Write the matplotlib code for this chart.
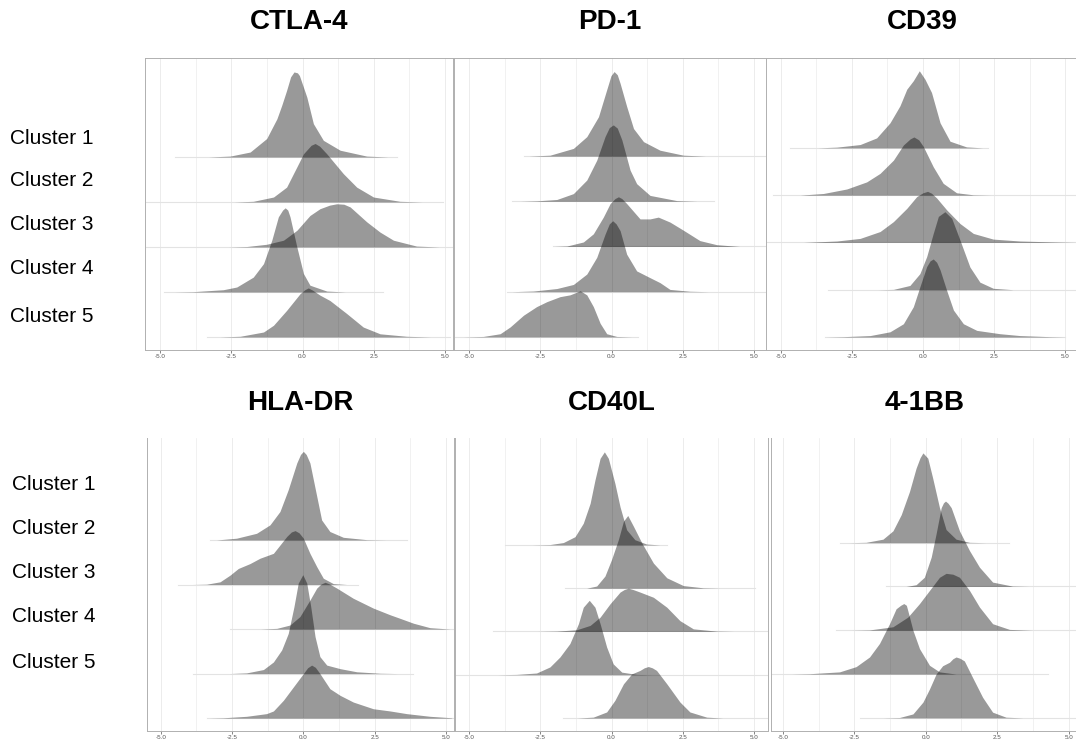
import numpy as np
from matplotlib import pyplot as plt

plt.rcParams['font.family'] = ['Liberation Sans', 'DejaVu Sans']

MARKERS = ['CTLA-4', 'PD-1', 'CD39', 'HLA-DR', 'CD40L', '4-1BB']
CLUSTERS = ['Cluster 1', 'Cluster 2', 'Cluster 3', 'Cluster 4', 'Cluster 5']
TICKS = [-5.0, -2.5, 0.0, 2.5, 5.0]
TICK_LABELS = ['-5.0', '-2.5', '0.0', '2.5', '5.0']

# density outlines: x knots and ridge heights
# (height in units of the gap between two ridge baselines)
CTLA4_X = [
    [-3.3, -2.54, -1.84, -1.26, -0.9, -0.73, -0.56, -0.42, -0.30, -0.18, -0.11, 0.15, 0.38, 0.73, 1.32, 2.25, 3.0],
    [-2.4, -1.73, -1.02, -0.56, -0.2, 0.03, 0.3, 0.44, 0.6, 0.85, 1.43, 1.9, 2.49, 3.42, 4.2],
    [-2.6, -1.96, -1.26, -0.67, -0.2, 0.26, 0.61, 0.95, 1.2, 1.45, 1.67, 2.25, 2.72, 3.19, 4.0, 4.8],
    [-4.5, -3.83, -2.78, -2.31, -1.73, -1.37, -1.08, -0.85, -0.7, -0.61, -0.52, -0.44, -0.2, 0.03, 0.26, 0.85, 1.5],
    [-2.9, -2.19, -1.37, -1.02, -0.56, -0.09, 0.08, 0.2, 0.35, 0.61, 0.96, 1.55, 2.13, 2.72, 3.65, 4.5],
]
CTLA4_H = [
    [0, 0.02, 0.11, 0.41, 0.85, 1.15, 1.48, 1.78, 1.89, 1.87, 1.81, 1.33, 0.74, 0.37, 0.15, 0.02, 0],
    [0, 0.015, 0.11, 0.33, 0.78, 1.07, 1.26, 1.30, 1.24, 1.07, 0.63, 0.33, 0.11, 0.015, 0],
    [0, 0.01, 0.06, 0.15, 0.37, 0.70, 0.85, 0.93, 0.96, 0.95, 0.89, 0.56, 0.33, 0.15, 0.02, 0],
    [0, 0.007, 0.05, 0.11, 0.33, 0.63, 1.15, 1.67, 1.82, 1.87, 1.82, 1.67, 1.0, 0.41, 0.15, 0.02, 0],
    [0, 0.015, 0.11, 0.26, 0.59, 0.96, 1.05, 1.09, 1.04, 0.93, 0.81, 0.52, 0.22, 0.07, 0.015, 0],
]
CTLA4_RANGE = [(-4.47, 3.3), (-5.5, 4.94), (-5.5, 5.3), (-4.88, 2.84), (-3.36, 5.18)]

PD1_X = [
    [-2.9, -2.16, -1.34, -0.87, -0.46, -0.17, -0.02, 0.09, 0.2, 0.3, 0.53, 0.77, 1.12, 1.7, 2.52, 3.3],
    [-3.2, -2.63, -1.92, -1.34, -0.87, -0.52, -0.23, -0.08, 0.06, 0.2, 0.36, 0.65, 0.88, 1.35, 2.29, 3.0],
    [-2.0, -1.57, -0.99, -0.64, -0.29, -0.05, 0.12, 0.24, 0.36, 0.53, 1.0, 1.35, 1.64, 2.05, 2.52, 3.1, 3.69, 4.5],
    [-3.5, -2.74, -1.92, -1.34, -0.87, -0.52, -0.23, -0.08, 0.04, 0.16, 0.3, 0.53, 0.88, 1.35, 1.7, 2.05, 2.75, 3.4],
    [-5.2, -4.5, -3.91, -3.56, -3.09, -2.63, -2.27, -1.81, -1.46, -1.1, -0.87, -0.64, -0.4, -0.17, 0.18, 0.7],
]
PD1_H = [
    [0, 0.02, 0.17, 0.43, 0.87, 1.47, 1.78, 1.87, 1.8, 1.61, 1.1, 0.61, 0.32, 0.13, 0.02, 0],
    [0, 0.01, 0.04, 0.17, 0.47, 0.91, 1.43, 1.63, 1.69, 1.62, 1.36, 0.69, 0.39, 0.13, 0.015, 0],
    [0, 0.01, 0.10, 0.28, 0.65, 0.95, 1.06, 1.10, 1.06, 0.95, 0.61, 0.61, 0.65, 0.54, 0.36, 0.13, 0.04, 0],
    [0, 0.015, 0.07, 0.16, 0.39, 0.76, 1.27, 1.50, 1.57, 1.50, 1.35, 0.83, 0.46, 0.31, 0.2, 0.05, 0.01, 0],
    [0, 0.01, 0.07, 0.22, 0.48, 0.67, 0.78, 0.89, 0.93, 1.02, 0.93, 0.67, 0.30, 0.07, 0.01, 0],
]
PD1_RANGE = [(-3.09, 5.45), (-3.5, 3.6), (-2.04, 5.45), (-3.68, 5.45), (-5.49, 0.94)]

CD39_X = [
    [-3.7, -3.03, -2.21, -1.63, -1.16, -0.81, -0.57, -0.34, -0.13, 0.07, 0.3, 0.6, 0.95, 1.53, 2.1],
    [-4.32, -3.5, -2.68, -1.98, -1.51, -1.04, -0.69, -0.45, -0.32, -0.15, 0.01, 0.36, 0.71, 1.18, 1.77, 2.4],
    [-4.2, -3.03, -2.21, -1.51, -1.04, -0.57, -0.22, 0.0, 0.16, 0.3, 0.48, 0.83, 1.3, 1.77, 2.47, 3.41, 4.81, 5.4],
    [-1.6, -1.04, -0.46, -0.11, 0.13, 0.36, 0.54, 0.77, 1.01, 1.3, 1.65, 2.0, 2.47, 3.17],
    [-3.4, -2.8, -1.86, -1.16, -0.69, -0.34, -0.11, 0.13, 0.25, 0.36, 0.48, 0.6, 0.83, 1.07, 1.42, 1.89, 2.7, 3.41, 4.46, 5.0],
]
CD39_H = [
    [0, 0.015, 0.07, 0.21, 0.53, 0.89, 1.24, 1.42, 1.63, 1.45, 1.17, 0.53, 0.14, 0.02, 0],
    [0, 0.035, 0.13, 0.28, 0.46, 0.74, 1.06, 1.19, 1.23, 1.17, 1.03, 0.6, 0.25, 0.05, 0.007, 0],
    [0, 0.03, 0.085, 0.23, 0.44, 0.72, 0.97, 1.05, 1.08, 1.04, 0.94, 0.69, 0.40, 0.19, 0.07, 0.03, 0.007, 0],
    [0, 0.007, 0.09, 0.34, 0.70, 1.19, 1.55, 1.65, 1.51, 1.05, 0.48, 0.16, 0.03, 0],
    [0, 0.007, 0.03, 0.11, 0.28, 0.64, 1.06, 1.49, 1.61, 1.65, 1.58, 1.42, 0.99, 0.57, 0.28, 0.14, 0.07, 0.03, 0.007, 0],
]
CD39_RANGE = [(-4.67, 2.3), (-5.26, 5.45), (-5.5, 5.45), (-3.33, 5.45), (-3.44, 4.99)]

HLADR_X = [
    [-3.04, -2.34, -1.64, -1.17, -0.82, -0.53, -0.23, -0.1, 0.0, 0.1, 0.23, 0.47, 0.64, 0.93, 1.4, 2.22, 2.9],
    [-3.9, -3.39, -2.92, -2.57, -2.28, -1.87, -1.52, -1.05, -0.58, -0.42, -0.29, -0.15, 0.0, 0.23, 0.47, 0.7, 1.05, 1.52],
    [-1.5, -0.93, -0.47, -0.12, 0.23, 0.47, 0.62, 0.76, 0.92, 1.17, 1.75, 2.45, 3.04, 3.39, 3.86, 4.44, 5.14],
    [-2.6, -1.99, -1.4, -1.05, -0.76, -0.53, -0.33, -0.18, -0.02, 0.12, 0.26, 0.41, 0.58, 0.82, 1.29, 1.87, 2.69, 3.3],
    [-3.3, -2.8, -1.99, -1.29, -1.05, -0.7, -0.35, 0.0, 0.15, 0.29, 0.42, 0.58, 0.93, 1.29, 1.75, 2.45, 3.04, 3.62, 4.44, 5.2],
]
HLADR_H = [
    [0, 0.04, 0.15, 0.34, 0.64, 1.13, 1.73, 1.92, 1.99, 1.92, 1.73, 0.98, 0.45, 0.19, 0.06, 0.007, 0],
    [0, 0.007, 0.06, 0.21, 0.36, 0.47, 0.59, 0.70, 1.08, 1.18, 1.21, 1.16, 1.04, 0.70, 0.40, 0.14, 0.02, 0],
    [0, 0.015, 0.09, 0.28, 0.65, 0.92, 1.01, 1.05, 1.01, 0.92, 0.69, 0.47, 0.32, 0.24, 0.13, 0.03, 0],
    [0, 0.015, 0.09, 0.26, 0.53, 0.9, 1.5, 2.03, 2.22, 2.03, 1.5, 0.83, 0.38, 0.19, 0.11, 0.04, 0.007, 0],
    [0, 0.007, 0.04, 0.10, 0.16, 0.40, 0.70, 1.0, 1.13, 1.19, 1.14, 1.0, 0.66, 0.51, 0.36, 0.21, 0.16, 0.10, 0.04, 0.007],
]
HLADR_RANGE = [(-3.27, 3.62), (-4.38, 1.93), (-2.57, 5.26), (-3.86, 3.86), (-3.39, 5.26)]

CD40L_X = [
    [-2.8, -2.16, -1.69, -1.28, -0.99, -0.75, -0.58, -0.4, -0.25, -0.11, 0.12, 0.3, 0.53, 0.82, 1.23, 1.7],
    [-0.87, -0.52, -0.23, 0.0, 0.24, 0.42, 0.57, 0.77, 1.06, 1.47, 1.94, 2.52, 3.22, 3.8],
    [-2.6, -1.92, -1.22, -0.75, -0.4, -0.05, 0.3, 0.45, 0.59, 0.75, 1.0, 1.47, 1.94, 2.4, 2.87, 3.69, 4.3],
    [-4.0, -3.33, -2.63, -2.16, -1.81, -1.46, -1.16, -0.99, -0.78, -0.58, -0.4, -0.17, 0.06, 0.36, 0.88, 1.4],
    [-1.2, -0.64, -0.17, 0.12, 0.42, 0.71, 1.0, 1.15, 1.29, 1.43, 1.58, 1.94, 2.4, 2.75, 3.34, 3.9],
]
CD40L_H = [
    [0, 0.008, 0.054, 0.19, 0.5, 0.96, 1.5, 2.0, 2.15, 2.0, 1.42, 0.88, 0.35, 0.12, 0.02, 0],
    [0, 0.05, 0.28, 0.66, 1.12, 1.55, 1.68, 1.43, 1.05, 0.58, 0.24, 0.06, 0.008, 0],
    [0, 0.008, 0.04, 0.14, 0.33, 0.64, 0.91, 0.97, 1.0, 0.97, 0.91, 0.79, 0.56, 0.25, 0.06, 0.008, 0],
    [0, 0.008, 0.04, 0.18, 0.41, 0.72, 1.18, 1.56, 1.72, 1.56, 1.18, 0.64, 0.25, 0.06, 0.008, 0],
    [0, 0.02, 0.14, 0.41, 0.79, 1.02, 1.1, 1.16, 1.19, 1.16, 1.1, 0.79, 0.37, 0.14, 0.02, 0],
]
CD40L_RANGE = [(-3.74, 1.94), (-1.63, 5.04), (-4.15, 5.5), (-5.49, 5.5), (-1.69, 5.5)]

BB41_X = [
    [-2.7, -2.09, -1.5, -1.15, -0.86, -0.57, -0.34, -0.2, -0.1, 0.07, 0.24, 0.48, 0.71, 1.06, 1.53, 2.1],
    [-0.69, -0.34, -0.05, 0.19, 0.36, 0.54, 0.62, 0.69, 0.78, 0.89, 1.18, 1.53, 1.88, 2.34, 3.04, 3.6],
    [-2.6, -1.97, -1.15, -0.63, -0.22, 0.13, 0.48, 0.71, 0.95, 1.18, 1.53, 1.88, 2.34, 2.93, 3.74],
    [-4.7, -4.07, -3.02, -2.44, -1.97, -1.62, -1.27, -1.04, -0.88, -0.77, -0.68, -0.63, -0.45, -0.22, 0.13, 0.48, 1.06],
    [-1.5, -0.92, -0.45, -0.1, 0.13, 0.36, 0.59, 0.83, 0.95, 1.06, 1.2, 1.35, 1.64, 1.99, 2.34, 2.81, 3.4],
]
BB41_H = [
    [0, 0.008, 0.08, 0.27, 0.64, 1.17, 1.70, 1.94, 2.05, 1.93, 1.48, 0.80, 0.30, 0.08, 0.008, 0],
    [0, 0.04, 0.21, 0.67, 1.2, 1.8, 1.91, 1.95, 1.9, 1.8, 1.27, 0.82, 0.44, 0.1, 0.008, 0],
    [0, 0.008, 0.08, 0.30, 0.61, 0.91, 1.21, 1.30, 1.28, 1.21, 0.91, 0.53, 0.15, 0.02, 0],
    [0, 0.008, 0.05, 0.17, 0.39, 0.70, 1.15, 1.49, 1.57, 1.61, 1.57, 1.45, 1.0, 0.58, 0.2, 0.05, 0],
    [0, 0.008, 0.09, 0.36, 0.66, 1.0, 1.19, 1.27, 1.35, 1.39, 1.36, 1.3, 0.92, 0.47, 0.13, 0.015, 0],
]
BB41_RANGE = [(-3.02, 2.93), (-1.39, 5.4), (-3.14, 5.4), (-5.41, 4.27), (-2.32, 5.4)]

PANEL_X = [CTLA4_X, PD1_X, CD39_X, HLADR_X, CD40L_X, BB41_X]
PANEL_H = [CTLA4_H, PD1_H, CD39_H, HLADR_H, CD40L_H, BB41_H]
PANEL_RANGE = [CTLA4_RANGE, PD1_RANGE, CD39_RANGE, HLADR_RANGE, CD40L_RANGE, BB41_RANGE]

W, H = 1076, 742
# panel boxes in pixels: left, right, top, bottom
BOXES = [
    (145, 453, 58, 350), (454, 766, 58, 350), (766, 1078, 58, 350),
    (147, 454, 438, 731), (455, 768, 438, 731), (771, 1078, 438, 731),
]
XLIMS = [(-5.53, 5.28), (-5.53, 5.42), (-5.52, 5.45),
         (-5.48, 5.28), (-5.49, 5.49), (-5.42, 5.33)]
YLIMS = [(-0.29, 6.2), (-0.29, 6.17), (-0.275, 5.9),
         (-0.29, 6.29), (-0.30, 6.47), (-0.30, 6.39)]
LABEL_Y = [[138, 181, 225, 268, 316], [485, 529, 573, 617, 663]]
LABEL_X = [10, 12]
TITLE_Y = [22, 403]

fig = plt.figure(figsize=(W / 100, H / 100), dpi=100)

for k, name in enumerate(MARKERS):
    l, r, t, b = BOXES[k]
    ax = fig.add_axes([l / W, 1 - b / H, (r - l) / W, (b - t) / H])
    ax.set_xlim(*XLIMS[k])
    ax.set_ylim(*YLIMS[k])
    ax.set_axisbelow(True)

    for gx in [-5, -3.75, -2.5, -1.25, 0, 1.25, 2.5, 3.75, 5]:
        ax.axvline(gx, color='#ececec', lw=0.7 if gx % 2.5 == 0 else 0.5, zorder=0)

    for i in range(5):
        base = 4 - i
        lo, hi = PANEL_RANGE[k][i]
        ax.plot([lo, hi], [base, base], color='#e3e3e3', lw=0.8, zorder=1)
        xs = np.array(PANEL_X[k][i])
        hs = np.array(PANEL_H[k][i])
        ax.fill_between(xs, base, base + hs, color='black', alpha=0.4, lw=0, zorder=2)

    ax.set_xticks(TICKS)
    ax.set_xticklabels(TICK_LABELS)
    ax.set_yticks([])
    ax.tick_params(axis='x', labelsize=4.5, colors='#555555', length=2, width=0.5, pad=1)
    for side, sp in ax.spines.items():
        sp.set_color('#b0b0b0')
        sp.set_linewidth(0.7)
    if k >= 3:
        ax.spines['top'].set_visible(False)

    fig.text((l + r) / 2 / W, 1 - TITLE_Y[k // 3] / H, name,
             ha='center', va='center', fontsize=20, fontweight='bold')

for row in range(2):
    for j, lab in enumerate(CLUSTERS):
        fig.text(LABEL_X[row] / W, 1 - LABEL_Y[row][j] / H, lab,
                 ha='left', va='center', fontsize=15)

plt.savefig('out.png', dpi=100)
plt.close()
